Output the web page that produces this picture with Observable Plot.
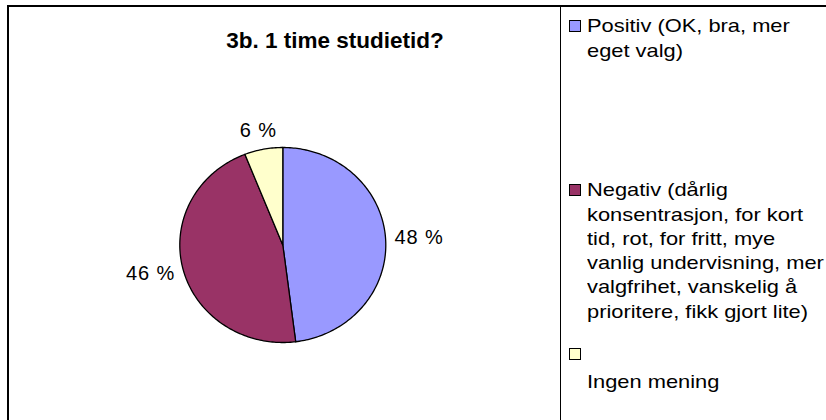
<!DOCTYPE html>
<html><head><meta charset="utf-8">
<script src="https://cdn.jsdelivr.net/npm/d3@7"></script>
<script src="https://cdn.jsdelivr.net/npm/@observablehq/plot@0.6"></script>
<style>
html,body{margin:0;padding:0;background:#fff;width:826px;height:420px;overflow:hidden;font-family:"Liberation Sans",Arial,sans-serif;color:#000;}
#frame{position:absolute;left:7px;top:5px;width:900px;height:500px;border-left:2px solid #000;border-top:2px solid #000;}
#legendbox{position:absolute;left:560px;top:6px;width:300px;height:500px;border-left:1px solid #000;}
#title{position:absolute;left:135px;width:400px;top:30px;text-align:center;font-weight:bold;font-size:22.5px;line-height:22px;}
#chart{position:absolute;left:0;top:0;}
#chart text{letter-spacing:0.9px;}
.sw{position:absolute;left:569px;width:10px;height:10px;border:1px solid #000;}
.txt{position:absolute;left:587px;font-size:19px;line-height:24.3px;white-space:pre;transform:scaleX(1.15);transform-origin:0 0;}
</style>
</head><body>
<div id="frame"></div>
<div id="legendbox"></div>
<div id="chart"></div>
<div id="title"></div>
<div id="legend"></div>
<script>
// ---- data ----
const title = "3b. 1 time studietid?";
const categories = ["Positiv (OK, bra, mer eget valg)", "Negativ (dårlig konsentrasjon, for kort tid, rot, for fritt, mye vanlig undervisning, mer valgfrihet, vanskelig å prioritere, fikk gjort lite)", "Ingen mening"];
const values = [48, 46, 6];
const valueLabels = ["48 %", "46 %", "6 %"];
const colors = ["#9999FF", "#993366", "#FFFFCC"];

// ---- layout (not data) ----
const legendLines = [
  ["Positiv (OK, bra, mer", "eget valg)"],
  ["Negativ (dårlig", "konsentrasjon, for kort", "tid, rot, for fritt, mye", "vanlig undervisning, mer", "valgfrihet, vanskelig å", "prioritere, fikk gjort lite)"],
  ["", "Ingen mening"]
];
const legendSwatchTop = [20, 184.3, 348];
const legendTextTop = [14.3, 178.3, 345.6];
const xRange = [179.3, 385.3], yRange = [342, 147];
const pxX = (xRange[1] - xRange[0]) / 2, pxY = (yRange[0] - yRange[1]) / 2;
const labelFont = 20, gap = 9;

document.getElementById("title").textContent = title;

// pie geometry from values
const total = d3.sum(values);
let acc = 0;
const slices = values.map((v, i) => {
  const a0 = acc / total * 360; acc += v;
  const a1 = acc / total * 360;
  return {cat: categories[i], label: valueLabels[i], a0, a1, mid: (a0 + a1) / 2};
});
const rad = a => a * Math.PI / 180;
const pts = [];
slices.forEach(s => {
  pts.push({cat: s.cat, x: 0, y: 0});
  const n = Math.max(2, Math.ceil(s.a1 - s.a0));
  for (let k = 0; k <= n; k++) {
    const a = rad(s.a0 + (s.a1 - s.a0) * k / n);
    pts.push({cat: s.cat, x: Math.sin(a), y: Math.cos(a)});
  }
  pts.push({cat: s.cat, x: 0, y: 0});
});

// label positions: outside edge along mid-angle, offset by half text box + gap
const ctx = document.createElement("canvas").getContext("2d");
ctx.font = `${labelFont}px "Liberation Sans", Arial`;
const labels = slices.map(s => {
  const a = rad(s.mid), sx = Math.sin(a), cy = Math.cos(a);
  const w = ctx.measureText(s.label).width + 0.9 * s.label.length, h = labelFont;
  const offX = sx * (w / 2 + gap), offY = cy * (h / 2 + gap);
  return {label: s.label, x: sx + offX / pxX, y: cy + offY / pxY};
});

const chart = Plot.plot({
  width: 560, height: 420, margin: 0,
  x: {domain: [-1, 1], range: xRange, axis: null},
  y: {domain: [-1, 1], range: yRange, axis: null},
  color: {domain: categories, range: colors},
  style: {background: "transparent", fontFamily: '"Liberation Sans", Arial, sans-serif'},
  marks: [
    Plot.line(pts, {x: "x", y: "y", z: "cat", fill: "cat", stroke: "#000", strokeWidth: 1.3, curve: "linear", strokeLinejoin: "round"}),
    Plot.text(labels, {x: "x", y: "y", text: "label", fontSize: labelFont, fill: "#000", textAnchor: "middle", lineAnchor: "middle"})
  ]
});
document.getElementById("chart").appendChild(chart);

// legend
const leg = document.getElementById("legend");
categories.forEach((c, i) => {
  const sw = document.createElement("div");
  sw.className = "sw"; sw.style.top = legendSwatchTop[i] + "px"; sw.style.background = colors[i];
  leg.appendChild(sw);
  const t = document.createElement("div");
  t.className = "txt"; t.style.top = legendTextTop[i] + "px";
  t.textContent = legendLines[i].join("\n");
  leg.appendChild(t);
});
</script>
</body></html>
